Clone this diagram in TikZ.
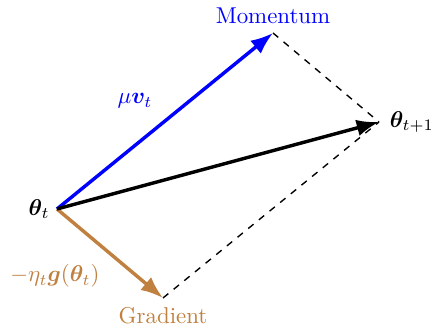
\documentclass[tikz,border=0pt]{standalone}
\usepackage{amsmath,bm}
\usetikzlibrary{arrows.meta,positioning}

\begin{document}
\begin{tikzpicture}[
  x=0.4367pt, y=-0.4367pt,
  vec/.style={-{Latex}, line width=1.5pt},
  guide/.style={dashed, semithick},
  lbl/.style={inner sep=2pt}
]
  \useasboundingbox (0,0) rectangle (431,330);

  \coordinate (O) at (57,209);
  \coordinate (M) at (273,33);
  \coordinate (G) at (163,298);
  \coordinate (N) at (379,122);

  \draw[guide] (M) -- (N);
  \draw[guide] (G) -- (N);

  \draw[vec, blue] (O) -- (M);
  \draw[vec, brown] (O) -- (G);
  \draw[vec, black] (O) -- (N);

  \node[lbl, left=1pt of O] (thetat) {$\bm{\theta}_t$};
  \node[lbl, right=2.5pt of N] (thetanext) {$\bm{\theta}_{t+1}$};
  \node[lbl, above=2pt of M, blue] (mom) {Momentum};
  \node[lbl, below=2pt of G, brown] (grad) {Gradient};
  \node[lbl, blue] (mulab) at (135,101) {$\mu\bm{v}_t$};
  \node[lbl, brown] (etalab) at (55,276) {$-\eta_t\bm{g}(\bm{\theta}_t)$};
\end{tikzpicture}
\end{document}
